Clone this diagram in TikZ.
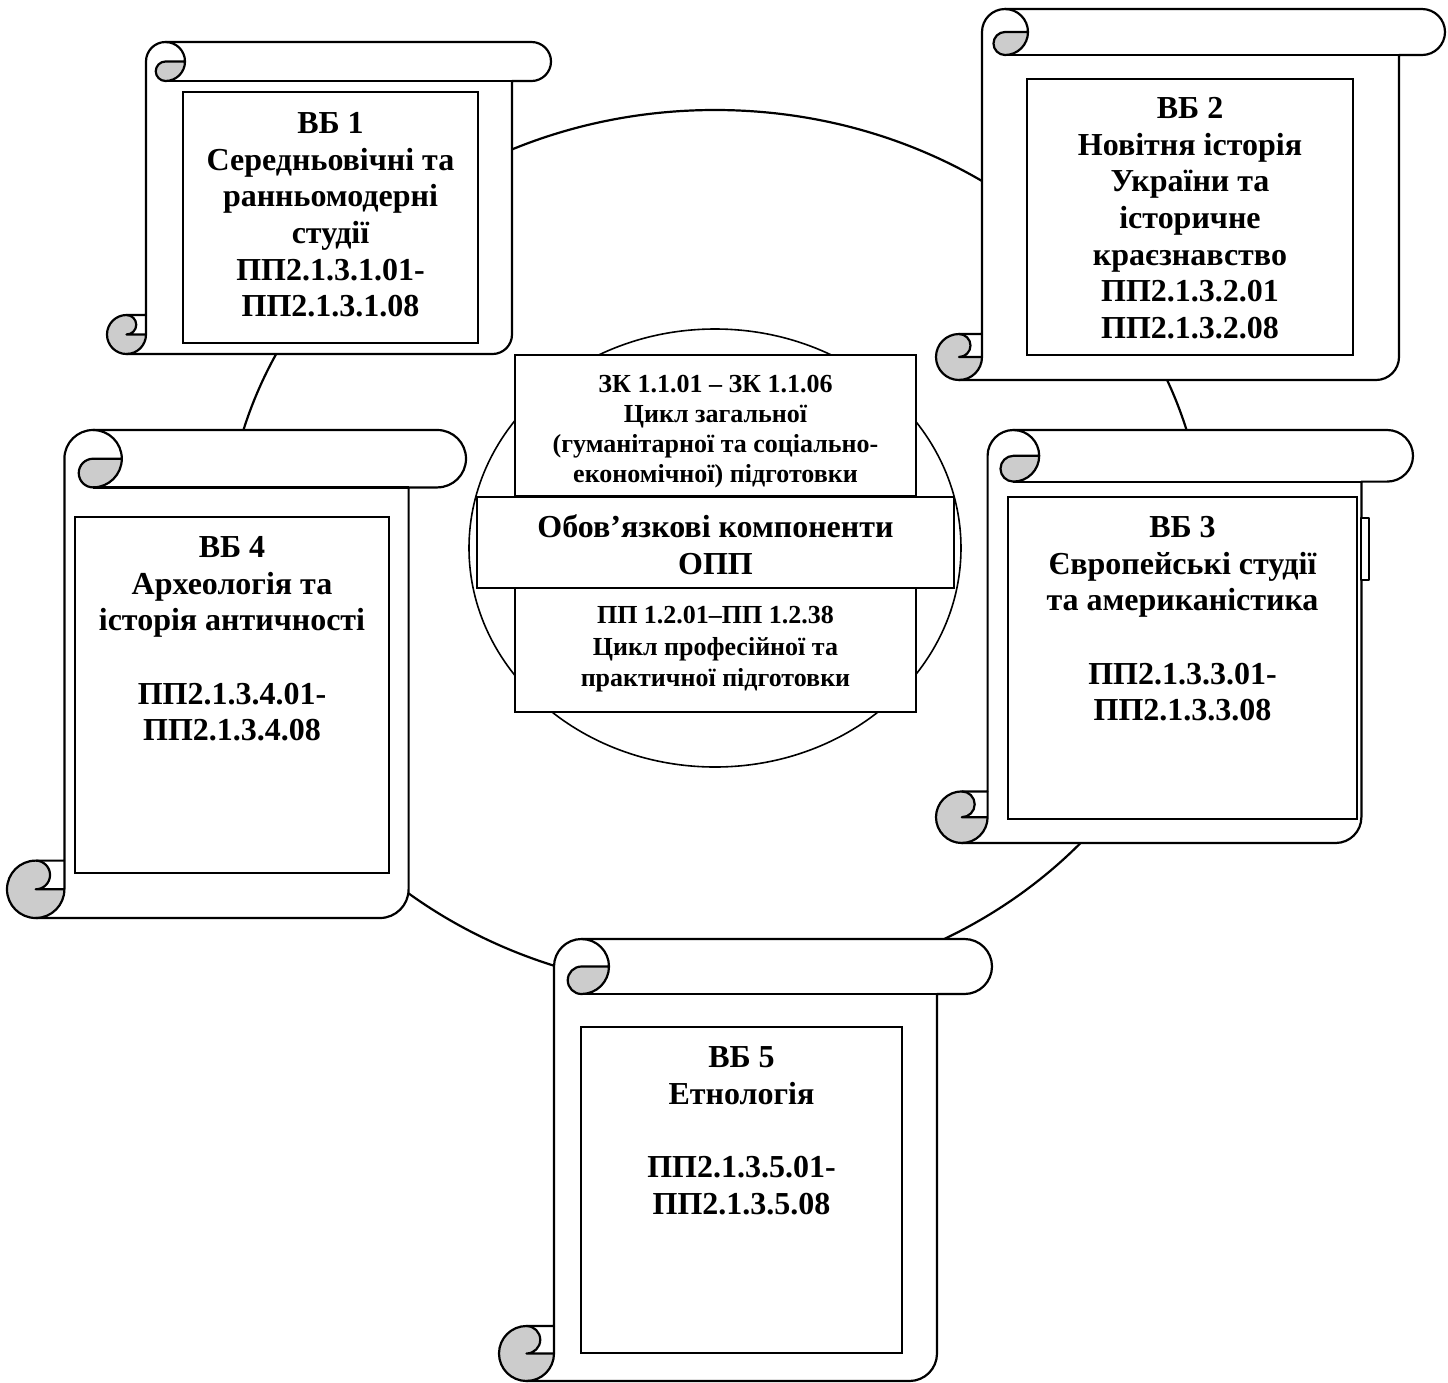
\documentclass[tikz,border=0pt]{standalone}
\usepackage{fontspec}
\setmainfont{Liberation Serif}
\tikzset{
  scrollline/.style={line width=1.1pt, draw=black, line join=round},
  curlfill/.style={fill=black!20},
  boxline/.style={line width=1.1pt, draw=black, fill=white},
  scrolltxt/.style={font=\bfseries\fontsize{16}{18.35}\selectfont, align=center, inner sep=0pt, anchor=north},
  smalltxt/.style={font=\bfseries\fontsize{13}{15}\selectfont, align=center, inner sep=0pt, anchor=north},
  lowtxt/.style={font=\bfseries\fontsize{13}{15.8}\selectfont, align=center, inner sep=0pt, anchor=north},
}
% #1 L, #2 T, #3 R, #4 B, #5 ch  (pixel units, y downwards)
\newcommand\scrolloutline{(\sL+\sc,\sB-\sc) -- (\sL+\sc,\sT+\sh)
   arc[start angle=180, delta angle=-90, radius=\rh pt] -- (\sR-\sh,\sT)
   arc[start angle=90, delta angle=-180, radius=\rh pt] -- (\sR-\sc,\sT+\sc) -- (\sR-\sc,\sB-\sh)
   arc[start angle=0, delta angle=-90, radius=\rh pt] -- (\sL+\sh,\sB)
   arc[start angle=-90, delta angle=-180, radius=\rh pt] -- cycle}
\newcommand\drawscroll[5]{%
  \pgfmathsetmacro\sL{#1}\pgfmathsetmacro\sT{#2}\pgfmathsetmacro\sR{#3}\pgfmathsetmacro\sB{#4}%
  \pgfmathsetmacro\sc{#5}\pgfmathsetmacro\sh{#5/2}%
  \pgfmathsetmacro\rh{#5/4}\pgfmathsetmacro\rq{#5/8}%
  \fill[white] \scrolloutline;
  \fill[curlfill] (\sL+2*\sc,\sT+\sh) arc[start angle=0, delta angle=-90, radius=\rh pt]
     arc[start angle=-90, delta angle=-180, radius=\rq pt] -- cycle;
  \fill[curlfill] (\sL+\sc,\sB-\sh) arc[start angle=0, delta angle=-270, radius=\rh pt]
     arc[start angle=90, delta angle=-180, radius=\rq pt] -- cycle;
  \draw[scrollline] \scrolloutline;
  \draw[scrollline] (\sL+\sc+\sh,\sT) arc[start angle=90, delta angle=-180, radius=\rh pt]
     arc[start angle=-90, delta angle=-180, radius=\rq pt] -- (\sL+2*\sc,\sT+\sh);
  \draw[scrollline] (\sR-\sc,\sT+\sc) -- (\sL+\sc+\sh,\sT+\sc);
  \draw[scrollline] (\sL+\sh,\sB-\sc) arc[start angle=90, delta angle=-180, radius=\rq pt] -- (\sL+\sc,\sB-\sh);
  \draw[scrollline] (\sL+\sh,\sB) arc[start angle=-90, delta angle=90, radius=\rh pt] -- (\sL+\sc,\sB-\sc);
}
\begin{document}
\begin{tikzpicture}[x=0.5pt, y=-0.5pt]
\useasboundingbox (0,0) rectangle (1448,1383);
\fill[white] (0,0) rectangle (1448,1383);
% outer ring
\draw[scrollline] (715,550) ellipse [x radius=245pt, y radius=220pt];
% central ellipse
\draw[line width=0.8pt] (715,548) ellipse [x radius=123pt, y radius=109.5pt];
% central boxes
\draw[boxline] (515,355) rectangle (916,496);
\draw[boxline] (515,588) rectangle (916,712);
\draw[boxline] (477,497) rectangle (954,588);
\node[smalltxt] (ztop) at (715.5,372) {\rule{0pt}{10pt}ЗК 1.1.01 – ЗК 1.1.06\\Цикл загальної\\(гуманітарної та соціально-\\економічної) підготовки};
\node[scrolltxt] (zmid) at (715.5,513) {\rule{0pt}{12pt}Обов’язкові компоненти\\ОПП};
\node[lowtxt] (zbot) at (715.5,603) {\rule{0pt}{10pt}ПП 1.2.01–ПП 1.2.38\\Цикл професійної та\\практичної підготовки};
% scroll 1
\drawscroll{107}{42}{551}{354}{39}
\draw[boxline] (183,92) rectangle (478,343);
\node[scrolltxt] (vb1) at (330.5,109) {\rule{0pt}{12pt}ВБ 1\\Середньовічні та\\ранньомодерні\\студії\\ПП2.1.3.1.01-\\ПП2.1.3.1.08};
% scroll 2
\drawscroll{936}{9}{1445}{380}{46}
\draw[boxline] (1027,79) rectangle (1353,355);
\node[scrolltxt] (vb2) at (1190,94) {\rule{0pt}{12pt}ВБ 2\\Новітня історія\\України та\\історичне\\краєзнавство\\ПП2.1.3.2.01\\ПП2.1.3.2.08};
% scroll 3
\drawscroll{936}{430}{1413}{843}{51.6}
\draw[scrollline, fill=white] (1361,518) rectangle (1369,580);
\draw[boxline] (1008,497) rectangle (1357,819);
\node[scrolltxt] (vb3) at (1182.5,513) {\rule{0pt}{12pt}ВБ 3\\Європейські студії\\та американістика\\[18.35pt]ПП2.1.3.3.01-\\ПП2.1.3.3.08};
% scroll 4
\drawscroll{7}{430}{466}{918}{57.4}
\draw[boxline] (75,517) rectangle (389,873);
\node[scrolltxt] (vb4) at (232,533) {\rule{0pt}{12pt}ВБ 4\\Археологія та\\історія античності\\[18.35pt]ПП2.1.3.4.01-\\ПП2.1.3.4.08};
% scroll 5
\drawscroll{499}{939}{992}{1381}{55}
\draw[boxline] (581,1027) rectangle (902,1353);
\node[scrolltxt] (vb5) at (741.5,1043) {\rule{0pt}{12pt}ВБ 5\\Етнологія\\[18.35pt]ПП2.1.3.5.01-\\ПП2.1.3.5.08};
\end{tikzpicture}
\end{document}
